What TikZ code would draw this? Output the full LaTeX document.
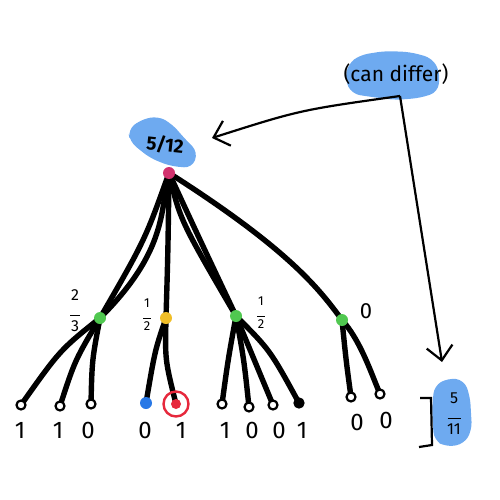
\documentclass[tikz,border=0pt]{standalone}
\usepackage{fontspec}
\setmainfont{Fira Sans}
\usetikzlibrary{arrows.meta}
\pgfdeclarelayer{bg}
\pgfsetlayers{bg,main}
\definecolor{hl}{RGB}{110,170,240}
\definecolor{pinkdot}{RGB}{210,50,110}
\definecolor{greendot}{RGB}{80,200,80}
\definecolor{yellowdot}{RGB}{240,190,40}
\definecolor{bluedot}{RGB}{40,120,230}
\definecolor{reddot}{RGB}{230,40,60}
\tikzset{
  edge/.style={line width=5.4pt, line cap=round, black},
  dot/.style={circle, fill=#1, inner sep=0pt, minimum size=12pt},
  leaf/.style={circle, draw=black, fill=white, line width=2.2pt, inner sep=0pt, minimum size=9pt},
  digit/.style={font=\fontsize{24}{24}\selectfont},
  frac/.style={font=\fontsize{16}{16}\selectfont, align=center, inner sep=0pt},
  arr/.style={line width=2.2pt, -{Straight Barb[length=14pt,width=26pt,line width=2.2pt]}},
  blob/.style={fill=hl, rounded corners=8pt}
}
\begin{document}
\begin{tikzpicture}[x=1pt,y=-1pt]
\useasboundingbox (0,0) rectangle (500,500);
% highlights
\fill[blob] (128,130) -- (140,120) -- (158,116) -- (172,124) -- (186,140) -- (198,152) -- (192,168) -- (170,166) -- (150,158) -- (130,142) -- cycle;
\fill[blob] (348,64) -- (360,55) -- (385,51) -- (410,52) -- (432,58) -- (440,72) -- (438,92) -- (420,98) -- (395,100) -- (372,97) -- (352,94) -- (345,80) -- cycle;
\fill[blob] (434,386) -- (448,378) -- (464,380) -- (470,396) -- (472,430) -- (464,444) -- (446,447) -- (434,440) -- (432,412) -- cycle;
% nodes
\node[dot=pinkdot] (r) at (169,173) {};
\node[dot=greendot] (a) at (100,318) {};
\node[dot=yellowdot] (b) at (166,318) {};
\node[dot=greendot] (c) at (236,316) {};
\node[dot=greendot] (d) at (342,320) {};
% leaves
\node[leaf] (l1) at (21,405) {};
\node[leaf] (l2) at (60,406) {};
\node[leaf] (l3) at (91,404) {};
\node[dot=bluedot] (l4) at (146,403) {};
\node[dot=reddot, minimum size=10pt] (l5) at (176,404) {};
\node[circle, draw=reddot, line width=2.4pt, minimum size=25pt] (ring) at (176,404) {};
\node[leaf] (l6) at (222,404) {};
\node[leaf] (l7) at (249,407) {};
\node[leaf] (l8) at (273,405) {};
\node[leaf, fill=black] (l9) at (299,403) {};
\node[leaf] (l10) at (351,397) {};
\node[leaf] (l11) at (380,394) {};
\begin{pgfonlayer}{bg}
% edges root
\draw[edge] (r.center) .. controls (145,240) .. (a.center);
\draw[edge] (r.center) .. controls (160,210) and (168,250) .. (a.center);
\draw[edge] (r.center) .. controls (168,250) .. (b.center);
\draw[edge] (r.center) .. controls (200,240) .. (c.center);
\draw[edge] (r.center) .. controls (180,220) .. (c.center);
\draw[edge] (r.center) .. controls (290,250) and (320,290) .. (d.center);
% leaf edges
\draw[edge] (a.center) .. controls (60,350) .. (l1.center);
\draw[edge] (a.center) .. controls (75,360) .. (l2.center);
\draw[edge] (a.center) .. controls (92,360) .. (l3.center);
\draw[edge] (b.center) .. controls (155,350) .. (l4.center);
\draw[edge] (b.center) .. controls (165,360) .. (l5.center);
\draw[edge] (c.center) .. controls (228,360) .. (l6.center);
\draw[edge] (c.center) .. controls (244,360) .. (l7.center);
\draw[edge] (c.center) .. controls (255,360) .. (l8.center);
\draw[edge] (c.center) .. controls (270,350) .. (l9.center);
\draw[edge] (d.center) .. controls (346,360) .. (l10.center);
\draw[edge] (d.center) .. controls (360,340) and (370,370) .. (l11.center);
\end{pgfonlayer}
% digits
\node[digit] (n1) at (20,430) {1};
\node[digit] (n2) at (58,430) {1};
\node[digit] (n3) at (88,430) {0};
\node[digit] (n4) at (145,430) {0};
\node[digit] (n5) at (181,430) {1};
\node[digit] (n6) at (225,430) {1};
\node[digit] (n7) at (252,430) {0};
\node[digit] (n8) at (279,430) {0};
\node[digit] (n9) at (302,430) {1};
\node[digit] (n10) at (357,422) {0};
\node[digit] (n11) at (386,420) {0};
% fraction labels
\node[frac] (fa) at (75,311) {2\\[-1pt]\rule{10pt}{1.3pt}\\[0pt]3};
\node[frac, font=\fontsize{13}{13}\selectfont] (fb) at (147,315) {1\\[-2pt]\rule{8pt}{1.2pt}\\[-1pt]2};
\node[frac, font=\fontsize{13}{13}\selectfont] (fc) at (261,313) {1\\[-2pt]\rule{8pt}{1.2pt}\\[-1pt]2};
\node[digit, font=\fontsize{22}{22}\selectfont] (fd) at (366,311) {0};
% top labels
\node[font=\fontsize{19}{19}\selectfont\bfseries, rotate=-6] (top) at (165,145) {5/12};
\node[font=\fontsize{21}{21}\selectfont] (cd) at (396,74) {(can differ)};
\coordinate (split) at (400,96);
\draw[arr] (split) .. controls (300,110) .. (212,138);
\draw[arr] (split) -- (442,362);
% bracket and result
\draw[line width=2.2pt] (420,398) -- (431,398) -- (432,445) -- (419,447);
\node[frac, font=\fontsize{16}{16}\selectfont] (res) at (454,414) {5\\[-1pt]\rule{13pt}{1.3pt}\\[0pt]11};
\end{tikzpicture}
\end{document}
